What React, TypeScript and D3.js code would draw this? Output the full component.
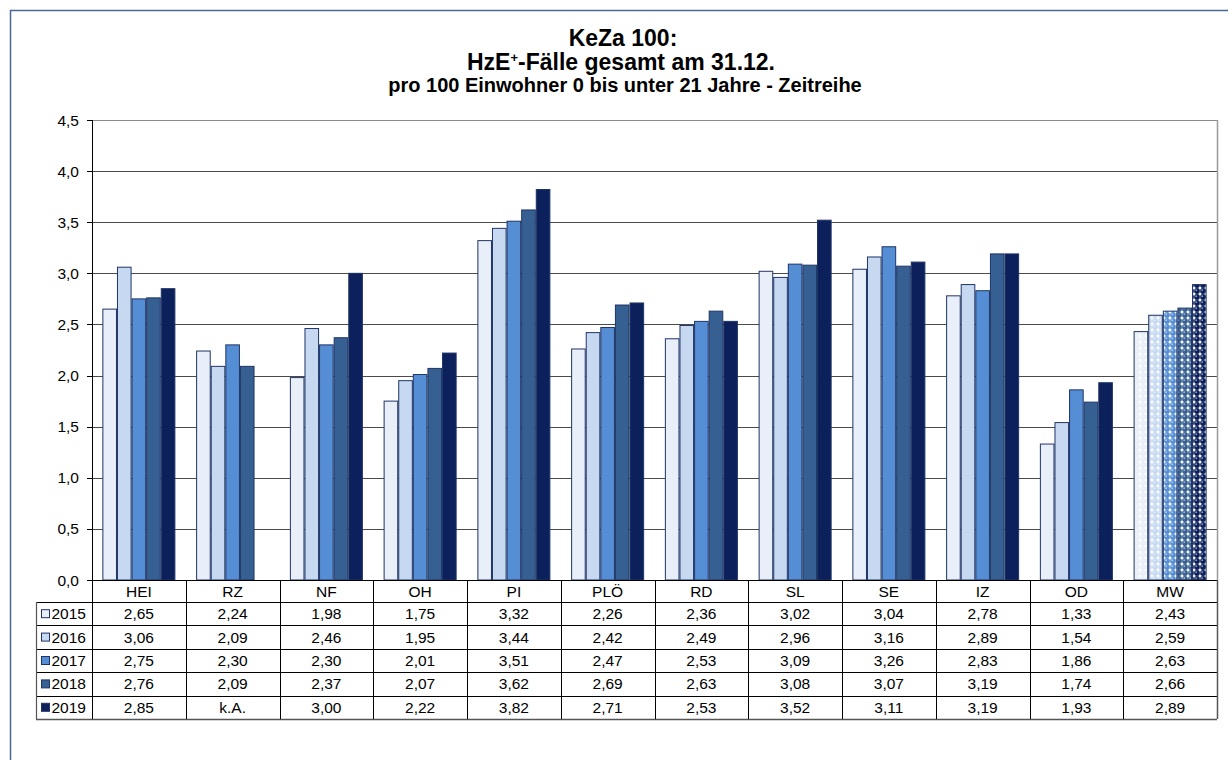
import React from "react";
import * as d3 from "d3";

const categories = ["HEI", "RZ", "NF", "OH", "PI", "PLÖ", "RD", "SL", "SE", "IZ", "OD", "MW"];
const years = ["2015", "2016", "2017", "2018", "2019"];
const v2015 = [2.65, 2.24, 1.98, 1.75, 3.32, 2.26, 2.36, 3.02, 3.04, 2.78, 1.33, 2.43];
const v2016 = [3.06, 2.09, 2.46, 1.95, 3.44, 2.42, 2.49, 2.96, 3.16, 2.89, 1.54, 2.59];
const v2017 = [2.75, 2.3, 2.3, 2.01, 3.51, 2.47, 2.53, 3.09, 3.26, 2.83, 1.86, 2.63];
const v2018 = [2.76, 2.09, 2.37, 2.07, 3.62, 2.69, 2.63, 3.08, 3.07, 3.19, 1.74, 2.66];
const v2019: (number | null)[] = [2.85, null, 3.0, 2.22, 3.82, 2.71, 2.53, 3.52, 3.11, 3.19, 1.93, 2.89];
const series = [v2015, v2016, v2017, v2018, v2019];
const yTicks = [0, 0.5, 1, 1.5, 2, 2.5, 3, 3.5, 4, 4.5];
const colors = ["#e8eff9", "#c6d9f1", "#558ed5", "#376092", "#0c215c"];
const titleLines = ["KeZa 100:", "-Fälle gesamt am 31.12.", "pro 100 Einwohner 0 bis unter 21 Jahre - Zeitreihe"];

const fmt = (v: number | null) => (v == null ? "k.A." : d3.format(".2f")(v).replace(".", ","));

export default function App() {
  const left = 92, right = 1217, top = 120, bottom = 580;
  const y = d3.scaleLinear().domain([0, 4.5]).range([bottom, top]);
  const x = d3.scaleBand<string>().domain(categories).range([left, right]).padding(0);
  const xi = d3.scaleBand<string>().domain(years).range([0, x.bandwidth()]).paddingInner(0).paddingOuter(0.71);
  const rowTop = 602, rowH = 23.4, tableLeft = 36;
  const font = "Arial, 'Liberation Sans', sans-serif";
  const mwIdx = categories.indexOf("MW");
  const fs = 15.5;
  const tableBottom = rowTop + 5 * rowH;

  return (
    <div style={{ position: "fixed", left: 0, top: 0 }}>
      <svg width={1228} height={760} style={{ display: "block", background: "#fff" }} fontFamily={font}>
        <defs>
          {colors.map((c, i) => (
            <pattern key={i} id={`pat${i}`} width={6} height={6} patternUnits="userSpaceOnUse">
              <rect width={6} height={6} fill="#fff" />
              <circle cx={3} cy={3} r={2.9} fill={c} />
              <circle cx={2.2} cy={2.2} r={0.9} fill="#fff" opacity={0.55} />
            </pattern>
          ))}
        </defs>
        <rect x={10.5} y={10.5} width={1240} height={800} fill="#fff" stroke="#4a6898" strokeWidth={1.5} />

        {/* title */}
        <text x={623} y={46} textAnchor="middle" fontSize={23} fontWeight="bold">{titleLines[0]}</text>
        <text x={621} y={70} textAnchor="middle" fontSize={23} fontWeight="bold">
          HzE<tspan fontSize={13} dy={-8}>+</tspan><tspan dy={8}>{titleLines[1]}</tspan>
        </text>
        <text x={625} y={92} textAnchor="middle" fontSize={20} fontWeight="bold">{titleLines[2]}</text>

        {/* gridlines */}
        {yTicks.map((t) => (
          <line key={t} x1={left} x2={right} y1={Math.round(y(t)) + 0.5} y2={Math.round(y(t)) + 0.5}
            stroke={t === 4.5 ? "#8a8a8a" : "#4a4a4a"} strokeWidth={1} />
        ))}
        <line x1={right + 0.5} x2={right + 0.5} y1={top} y2={bottom} stroke="#9a9a9a" strokeWidth={1.5} />

        {/* bars */}
        {categories.map((cat, ci) =>
          series.map((s, si) => {
            const v = s[ci];
            if (v == null) return null;
            const bx = (x(cat) as number) + (xi(years[si]) as number);
            const by = y(v);
            return (
              <rect key={cat + si} x={bx + 0.5} y={by} width={xi.bandwidth() - 1} height={bottom - by}
                fill={ci === mwIdx ? `url(#pat${si})` : colors[si]} stroke="#1f3466" strokeWidth={1} />
            );
          })
        )}

        {/* axes */}
        <line x1={left + 0.5} x2={left + 0.5} y1={top} y2={bottom} stroke="#000" />
        {yTicks.map((t) => (
          <g key={"t" + t}>
            <line x1={left - 5} x2={left} y1={Math.round(y(t)) + 0.5} y2={Math.round(y(t)) + 0.5} stroke="#000" />
            <text x={79} y={y(t) + 5.5} textAnchor="end" fontSize={fs}>{d3.format(".1f")(t).replace(".", ",")}</text>
          </g>
        ))}
        <line x1={left} x2={right} y1={bottom + 0.5} y2={bottom + 0.5} stroke="#000" />

        {/* data table */}
        {categories.map((cat) => (
          <text key={"h" + cat} x={(x(cat) as number) + x.bandwidth() / 2} y={596.5} textAnchor="middle" fontSize={fs}>{cat}</text>
        ))}
        {d3.range(6).map((r) => (
          <line key={"r" + r} x1={tableLeft} x2={right} y1={Math.round(rowTop + r * rowH) + 0.5}
            y2={Math.round(rowTop + r * rowH) + 0.5} stroke={r === 5 ? "#555" : "#000"} strokeWidth={r === 5 ? 1.5 : 1} />
        ))}
        <line x1={tableLeft + 0.5} x2={tableLeft + 0.5} y1={rowTop} y2={tableBottom} stroke="#555" strokeWidth={1.2} />
        {categories.map((cat, ci) => (
          <line key={"v" + ci} x1={Math.round(x(cat) as number) + 0.5} x2={Math.round(x(cat) as number) + 0.5}
            y1={bottom} y2={tableBottom} stroke="#000" />
        ))}
        <line x1={right + 0.5} x2={right + 0.5} y1={bottom} y2={tableBottom} stroke="#555" strokeWidth={1.5} />
        {years.map((yr, si) => {
          const cy = rowTop + si * rowH + rowH / 2;
          return (
            <g key={"l" + yr}>
              <rect x={41.5} y={cy - 4} width={8} height={8} fill={colors[si]} stroke="#1f3466" strokeWidth={1} />
              <text x={51.5} y={cy + 5.5} fontSize={fs}>{yr}</text>
              {categories.map((cat, ci) => (
                <text key={cat} x={(x(cat) as number) + x.bandwidth() / 2} y={cy + 5.5} textAnchor="middle" fontSize={fs}>
                  {fmt(series[si][ci])}
                </text>
              ))}
            </g>
          );
        })}
      </svg>
    </div>
  );
}
